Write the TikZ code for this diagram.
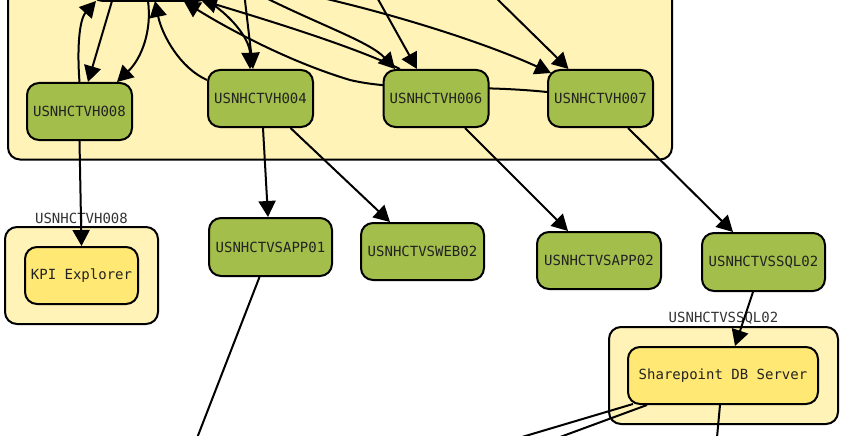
\documentclass[tikz,border=0pt]{standalone}
\usepackage{fontspec}
\setmonofont{DejaVu Sans Mono}
\usetikzlibrary{arrows.meta,calc}
\definecolor{clfill}{RGB}{255,243,184}
\definecolor{ngreen}{RGB}{163,190,74}
\definecolor{nyellow}{RGB}{255,232,115}
\definecolor{ntext}{RGB}{34,34,34}
\definecolor{ltext}{RGB}{51,51,51}
\pgfdeclarelayer{bg}
\pgfdeclarelayer{edges}
\pgfsetlayers{bg,edges,main}
\begin{document}
\begin{tikzpicture}[x=1pt,y=-1pt,
  box/.style={draw=black, line width=2pt, rounded corners=12pt, inner sep=0pt,
    font=\ttfamily\fontsize{14}{16}\selectfont, text=ntext},
  gnode/.style={box, fill=ngreen, minimum width=105pt, minimum height=57pt},
  ynode/.style={box, fill=nyellow, minimum height=57pt},
  cluster/.style={draw=black, line width=2pt, rounded corners=12pt, fill=clfill},
  clabel/.style={font=\ttfamily\fontsize{14}{16}\selectfont, text=ltext, inner sep=0pt},
  conn/.style={line width=2pt, -{Triangle[length=16pt,width=17pt]}}
]
\useasboundingbox (0,0) rectangle (844,436);
\clip (0,0) rectangle (844,436);

% nodes
\node[gnode, minimum width=118pt] (H) at (150,-27.5) {};
\node[gnode] (V8) at (79.5,111.5) {USNHCTVH008};
\node[gnode] (V4) at (260.5,98.5) {USNHCTVH004};
\node[gnode] (V6) at (436,98.5) {USNHCTVH006};
\node[gnode] (V7) at (600.5,98.5) {USNHCTVH007};
\node[ynode, minimum width=113pt] (KPI) at (81.5,275.5) {KPI Explorer};
\node[gnode, minimum width=123pt, minimum height=58pt] (SA1) at (270.5,247) {USNHCTVSAPP01};
\node[gnode, minimum width=123pt] (SW2) at (422.5,251.5) {USNHCTVSWEB02};
\node[gnode, minimum width=124pt] (SA2) at (599,260.5) {USNHCTVSAPP02};
\node[gnode, minimum width=123pt, minimum height=58pt] (SQ2) at (763.5,262) {USNHCTVSSQL02};
\node[ynode, minimum width=190pt] (SP) at (723,375.5) {Sharepoint DB Server};

% clusters
\begin{pgfonlayer}{bg}
\draw[cluster] (8,-100) rectangle (672,159.5);
\draw[cluster] (5,227) rectangle (158,324);
\draw[cluster] (609,327) rectangle (838,424);
\node[clabel] (L8) at (81.5,218) {USNHCTVH008};
\node[clabel] (LS) at (723.5,318) {USNHCTVSSQL02};
\end{pgfonlayer}

% free ends
\coordinate (h1) at (96,1);
\coordinate (h2) at (112,1);
\coordinate (h3) at (148,1);
\coordinate (h4) at (155,1);
\coordinate (h6) at (203,-2);
\coordinate (h7) at (201,0);
\coordinate (h8) at (184,1.5);
\coordinate (t5) at (244,-8);
\coordinate (t9) at (262,-4);
\coordinate (t10) at (374,-8);
\coordinate (t11) at (305,-6);
\coordinate (t12) at (488,-10);
\coordinate (c7) at (173,500);
\coordinate (c8) at (400,496);
\coordinate (c9) at (300,503);
\coordinate (c10) at (714,470);

\begin{pgfonlayer}{edges}
% top cluster
\draw[conn] (V8.north) .. controls (77,50) and (79,20) .. (h1);
\draw[conn] (h2) -- ([xshift=8.5pt]V8.north);
\draw[conn] (h3) .. controls (152,30) and (142,58) .. ([xshift=37.5pt]V8.north);
\draw[conn] ([yshift=18.5pt]V4.west) .. controls (180,68) and (162,35) .. (h4);
\draw[conn] (t5) -- ([xshift=-7.5pt]V4.north);
\draw[conn] (h6) .. controls (232,15) and (250,40) .. ([xshift=-10.5pt]V4.north);
\draw[conn] ([xshift=-36pt]V6.north) .. controls (350,45) and (260,18) .. (h7);
\draw[conn] ([yshift=6.5pt]V7.west) .. controls (470,84) and (400,92) .. (350,80)
   .. controls (290,62) and (230,30) .. (h8);
\draw[conn] (t9) .. controls (320,25) and (370,42) .. ([xshift=-41pt]V6.north);
\draw[conn] (t10) -- ([xshift=-19pt]V6.north);
\draw[conn] (t11) .. controls (400,15) and (490,45) .. ([xshift=-49.5pt,yshift=-4pt]V7.north);
\draw[conn] (t12) -- ([xshift=-32pt]V7.north);
% lower
\draw[conn] (V8.south) -- (KPI.north);
\draw[conn] ([xshift=2.5pt]V4.south) -- ([xshift=-2.5pt]SA1.north);
\draw[conn] ([xshift=30pt]V4.south) -- ([xshift=-32.5pt]SW2.north);
\draw[conn] ([xshift=29pt]V6.south) -- ([xshift=-31pt]SA2.north);
\draw[conn] ([xshift=27.5pt]V7.south) -- ([xshift=-30.5pt]SQ2.north);
\draw[conn] ([xshift=-10.5pt]SQ2.south) -- ([xshift=12pt]SP.north);
\draw[conn] ([xshift=-11pt]SA1.south) -- (c7);
\draw[conn] ([xshift=-76pt]SP.south) -- (c8);
\draw[conn] ([xshift=-90pt,yshift=1pt]SP.south) -- (c9);
\draw[conn] ([xshift=-3pt]SP.south) -- (c10);
\end{pgfonlayer}
\end{tikzpicture}
\end{document}
